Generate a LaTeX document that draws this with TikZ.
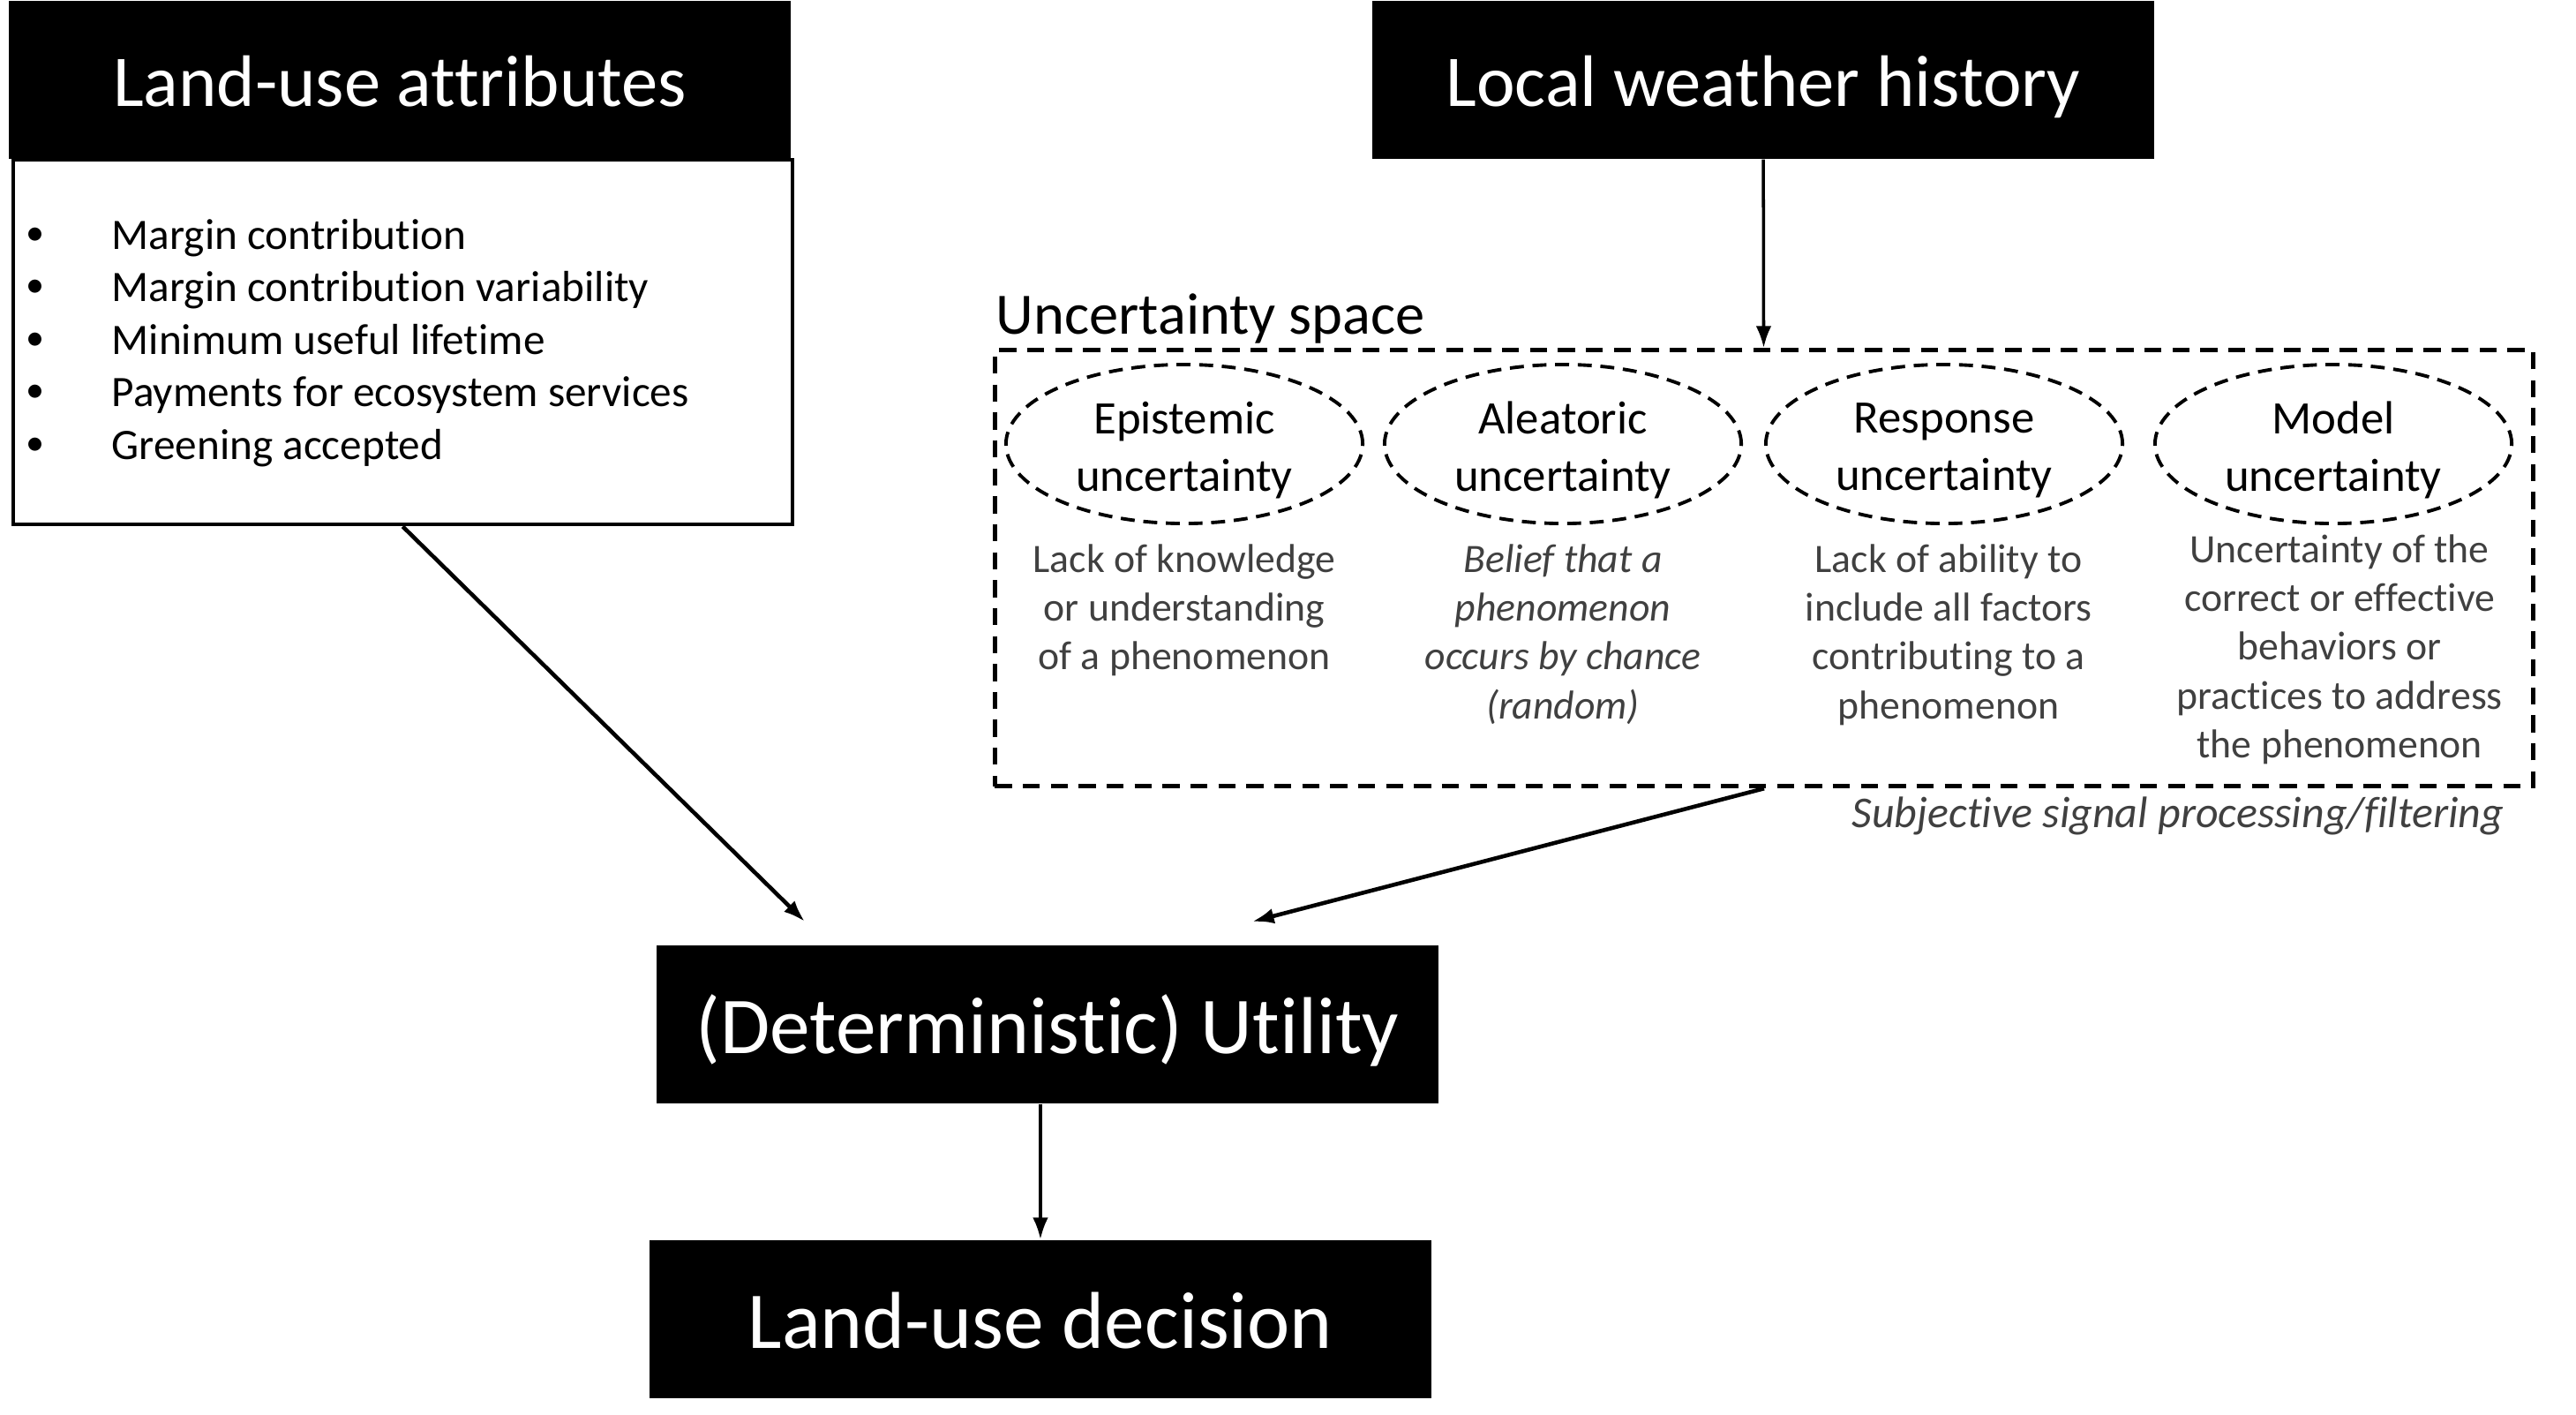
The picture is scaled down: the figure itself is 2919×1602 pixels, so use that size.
\documentclass[tikz,border=0pt]{standalone}
\usepackage{fontspec}
\setmainfont[Ligatures={NoCommon,NoContextual}]{Carlito}
\usetikzlibrary{positioning,shapes.geometric,arrows.meta}

\definecolor{descgray}{RGB}{64,64,64}

\tikzset{
  headbox/.style={fill=black, text=white, inner sep=0pt, minimum width=8.86cm, minimum height=1.79cm, text height=17pt, text depth=0pt, font=\fontsize{23.5}{28}\selectfont},
  basebox/.style={headbox, text height=18.7pt, font=\fontsize{26}{31}\selectfont},
  listbox/.style={draw, line width=1.2pt, inner sep=0pt, minimum width=8.82cm, minimum height=4.13cm},
  spacebox/.style={draw, line width=1.4pt, dash pattern=on 5.5pt off 3.5pt, inner sep=0pt, minimum width=17.42cm, minimum height=4.94cm},
  kindellipse/.style={ellipse, draw, line width=1.1pt, dash pattern=on 4.5pt off 2.8pt, inner sep=0pt, minimum width=4.04cm, minimum height=1.80cm},
  kindlabel/.style={align=center, inner sep=0pt, font=\fontsize{15}{18.5}\selectfont},
  desctext/.style={text=descgray, align=center, inner sep=0pt, font=\fontsize{13}{15.7}\selectfont},
  listtext/.style={anchor=base west, inner sep=0pt, font=\fontsize{14}{17}\selectfont},
  flow/.style={-{Latex[length=7pt,width=5pt]}, line width=1pt},
}

\begin{document}
\begin{tikzpicture}[x=0.01cm, y=-0.01cm]

\useasboundingbox (0,0) rectangle (2919,1602);

% Land-use attributes
\node[headbox, anchor=north west] (attrhead) at (9,0) {Land-use attributes};
\node[listbox, anchor=north west] (attrbody) at (13,179) {};
\foreach \txt [count=\i] in {Margin contribution, Margin contribution variability, Minimum useful lifetime, Payments for ecosystem services, Greening accepted} {
  \node[listtext, font=\fontsize{12}{14}\selectfont] (bullet\i) at (29,217.5+59.5*\i) {\textbullet};
  \node[listtext] (item\i) at (126,222.5+59.5*\i) {\txt};
}

% Local weather history
\node[headbox, anchor=north west] (weather) at (1554,0) {Local weather history};

% Uncertainty space
\node[spacebox, anchor=north west] (space) at (1125,394) {};
\node[anchor=base west, inner sep=0pt, font=\fontsize{18.9}{22}\selectfont] (spacelabel) at (1128,378) {Uncertainty space};

\node[kindellipse] (epi) at (1342,503) {};
\node[kindellipse] (alea) at (1771,503) {};
\node[kindellipse] (resp) at (2203,503) {};
\node[kindellipse] (model) at (2644,503) {};

\node[kindlabel] (epitext) at (1342,510) {Epistemic\\uncertainty};
\node[kindlabel] (aleatext) at (1771,510) {Aleatoric\\uncertainty};
\node[kindlabel] (resptext) at (2203,510) {Response\\uncertainty};
\node[kindlabel] (modeltext) at (2644,510) {Model\\uncertainty};

\node[desctext, below=0.21cm of epi] (epidesc) {Lack of knowledge\\or understanding\\of a phenomenon};
\node[desctext, below=0.21cm of alea, font=\fontsize{13}{15.7}\selectfont\itshape] (aleadesc) {Belief that a\\phenomenon\\occurs by chance\\(random)};
\node[desctext, below=0.21cm of resp, xshift=0.05cm] (respdesc) {Lack of ability to\\include all factors\\contributing to a\\phenomenon};
\node[desctext, below=0.1cm of model, xshift=0.07cm] (modeldesc) {Uncertainty of the\\correct or effective\\behaviors or\\practices to address\\the phenomenon};

\node[desctext, anchor=east, font=\fontsize{14.2}{17}\selectfont\itshape] (filtering) at (2838,924) {Subjective signal processing/filtering};

% Utility and decision
\node[basebox, anchor=north west] (utility) at (743,1070) {(Deterministic) Utility};
\node[basebox, anchor=north west] (decision) at (735,1404) {Land-use decision};

% Arrows
\coordinate (inL) at (912,1044);
\coordinate (inR) at (1419,1044);
\draw[flow] (weather) -- (space);
\draw[flow, line width=1.3pt] (attrbody.south) -- (inL);
\draw[flow, line width=1.3pt] (space.south) -- (inR);
\draw[flow] (utility.south -| decision.north) -- (decision);

\end{tikzpicture}
\end{document}
